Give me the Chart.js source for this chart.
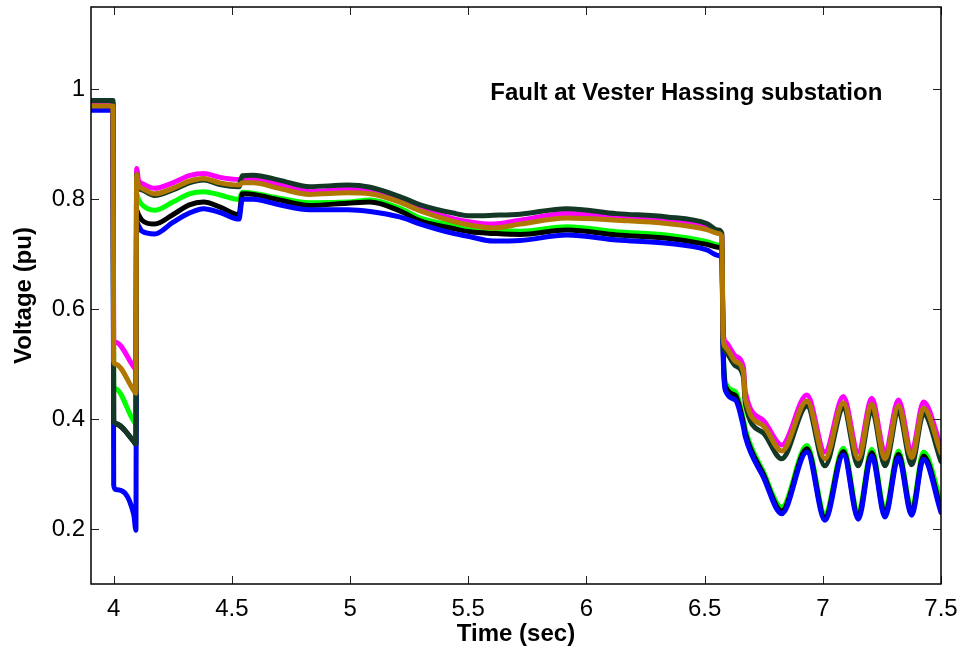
<!DOCTYPE html>
<html><head><meta charset="utf-8">
<script src="https://cdn.jsdelivr.net/npm/chart.js@4.4.1/dist/chart.umd.min.js"></script>
<style>html,body{margin:0;padding:0;background:#fff;}canvas{display:block;}</style>
</head><body>
<canvas id="c" width="961" height="653"></canvas>
<script>
const time = [3.904,3.997,4.0,4.008,4.085,4.094,4.097,4.105,4.12,4.173,4.25,4.32,4.38,4.45,4.53,4.544,4.59,4.70,4.83,4.99,5.085,5.21,5.297,5.436,5.508,5.605,5.72,5.917,6.128,6.34,6.509,6.557,6.573,6.578,6.59,6.63,6.664,6.672,6.748,6.826,6.933,7.009,7.087,7.15,7.207,7.263,7.32,7.376,7.426,7.5];

const magenta = [.975,.975,.545,.540,.495,.490,.856,.835,.829,.820,.830,.843,.847,.840,.836,.838,.838,.827,.814,.818,.814,.799,.783,.765,.759,.755,.762,.774,.768,.761,.751,.741,.735,.560,.540,.515,.495,.450,.398,.353,.444,.340,.441,.340,.438,.340,.435,.342,.431,.350];
const brown = [.970,.970,.505,.500,.452,.447,.845,.825,.820,.810,.820,.833,.838,.830,.826,.830,.830,.820,.809,.812,.810,.795,.779,.760,.753,.748,.755,.766,.762,.756,.745,.738,.732,.550,.530,.505,.486,.438,.388,.342,.433,.328,.430,.328,.427,.328,.424,.330,.420,.338];
const darkGreen = [.980,.980,.398,.392,.360,.355,.845,.822,.817,.807,.817,.830,.835,.827,.823,.843,.844,.835,.823,.826,.822,.805,.790,.775,.770,.771,.773,.783,.774,.768,.756,.744,.738,.545,.522,.497,.477,.428,.375,.328,.424,.315,.420,.315,.417,.315,.414,.317,.410,.323];
const green = [.975,.975,.462,.455,.396,.392,.810,.800,.790,.780,.795,.810,.814,.808,.800,.813,.811,.802,.794,.795,.799,.784,.766,.753,.747,.744,.742,.750,.741,.735,.723,.717,.712,.540,.465,.450,.400,.382,.305,.240,.352,.228,.347,.230,.345,.234,.342,.237,.340,.250];
const black = [.975,.975,.397,.391,.359,.354,.780,.772,.762,.755,.772,.790,.795,.786,.772,.810,.809,.799,.789,.793,.795,.779,.761,.747,.741,.738,.736,.744,.735,.729,.718,.713,.708,.535,.458,.443,.393,.375,.300,.233,.346,.221,.341,.223,.339,.227,.336,.230,.333,.236];
const blue = [.962,.962,.280,.272,.226,.198,.760,.752,.742,.737,.758,.775,.783,.776,.764,.800,.800,.790,.781,.781,.778,.768,.755,.738,.732,.724,.725,.735,.726,.720,.708,.698,.694,.525,.450,.435,.386,.368,.295,.228,.340,.216,.335,.218,.333,.222,.330,.225,.327,.230];

const xTicks = [4,4.5,5,5.5,6,6.5,7,7.5];
const xTickLabels = ['4','4.5','5','5.5','6','6.5','7','7.5'];
const yTicks = [0.2,0.4,0.6,0.8,1];
const yTickLabels = ['0.2','0.4','0.6','0.8','1'];
const noteText = 'Fault at Vester Hassing substation';
const xTitle = 'Time (sec)';
const yTitle = 'Voltage (pu)';

const FONT = '"Liberation Sans", Arial, Helvetica, sans-serif';

function series(vals){ return time.map((t,i)=>({x:t,y:vals[i]})); }
function ds(vals,color){
  return {data:series(vals),borderColor:color,backgroundColor:color,borderWidth:5,pointRadius:0,
          cubicInterpolationMode:'monotone',fill:false,borderCapStyle:'round',borderJoinStyle:'round'};
}
function noPad(s){ s.paddingLeft=0; s.paddingRight=0; s.paddingTop=0; s.paddingBottom=0; }

const frame = {
  id:'frame',
  afterDraw(chart){
    const {ctx, chartArea:a, scales:{x,y}} = chart;
    ctx.save();
    ctx.strokeStyle='#222'; ctx.lineWidth=1;
    ctx.beginPath();
    xTicks.forEach(v=>{const px=Math.round(x.getPixelForValue(v))+0.5;
      ctx.moveTo(px,a.bottom); ctx.lineTo(px,a.bottom-8);
      ctx.moveTo(px,a.top); ctx.lineTo(px,a.top+8);});
    yTicks.forEach(v=>{const py=Math.round(y.getPixelForValue(v))+0.5;
      ctx.moveTo(a.left,py); ctx.lineTo(a.left+8,py);
      ctx.moveTo(a.right,py); ctx.lineTo(a.right-8,py);});
    ctx.stroke();
    ctx.strokeStyle='#000'; ctx.lineWidth=1.5;
    ctx.strokeRect(a.left,a.top,a.right-a.left,a.bottom-a.top);
    ctx.font='bold 24px '+FONT; ctx.fillStyle='#000'; ctx.textBaseline='alphabetic'; ctx.textAlign='left';
    ctx.fillText(noteText, x.getPixelForValue(5.593), y.getPixelForValue(0.9805));
    ctx.restore();
  }
};

new Chart(document.getElementById('c'),{
  type:'line',
  data:{datasets:[
    ds(brown,'#b07800'),
    ds(darkGreen,'#143826'),
    ds(magenta,'#ff00ff'),
    ds(blue,'#0000ff'),
    ds(black,'#000000'),
    ds(green,'#00ff00')
  ]},
  options:{
    responsive:false,animation:false,
    layout:{padding:{left:0,right:20,top:7,bottom:0}},
    plugins:{legend:{display:false},tooltip:{enabled:false}},
    scales:{
      x:{type:'linear',min:3.904,max:7.5,
        afterBuildTicks:s=>{s.ticks=xTicks.map(v=>({value:v}));},
        afterFit:s=>{s.height=69; noPad(s);},
        grid:{display:false,drawTicks:false},border:{display:false},
        ticks:{padding:11,color:'#000',font:{family:FONT,size:24},maxRotation:0,autoSkip:false,
          callback:(v)=>{const i=xTicks.indexOf(v);return i>=0?xTickLabels[i]:'';}},
        title:{display:true,text:xTitle,color:'#000',font:{family:FONT,size:24,weight:'bold'},padding:{top:0,bottom:4}}
      },
      y:{type:'linear',min:0.1,max:1.15,
        afterBuildTicks:s=>{s.ticks=yTicks.map(v=>({value:v}));},
        afterFit:s=>{s.width=91; noPad(s);},
        grid:{display:false,drawTicks:false},border:{display:false},
        ticks:{padding:6,color:'#000',font:{family:FONT,size:24},autoSkip:false,
          callback:(v)=>{const i=yTicks.indexOf(v);return i>=0?yTickLabels[i]:'';}},
        title:{display:true,text:yTitle,color:'#000',font:{family:FONT,size:24,weight:'bold'},padding:{top:10,bottom:0}}
      }
    }
  },
  plugins:[frame]
});
</script>
</body></html>
